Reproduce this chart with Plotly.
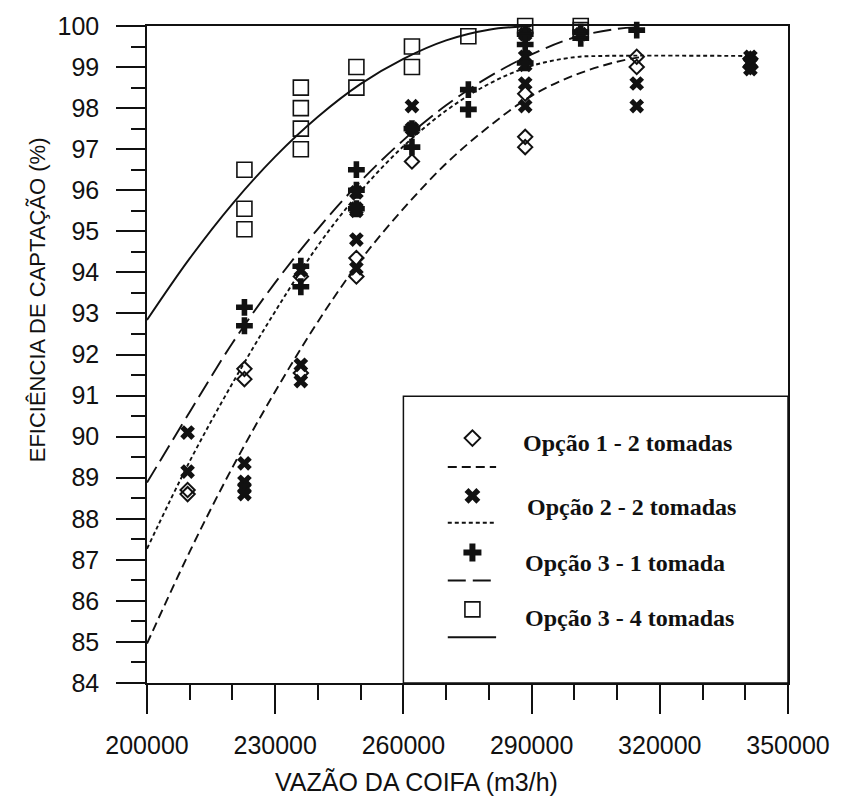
import plotly.graph_objects as go

# ---------------- data ----------------
# measured points
op1_x = [209500, 209500, 222800, 222800, 236000, 236000, 249000, 249000, 262000,
         288500, 288500, 288500, 314600, 314600, 341200, 341200]
op1_y = [88.7, 88.6, 91.65, 91.4, 93.9, 91.55, 94.35, 93.9, 96.7,
         98.35, 97.3, 97.05, 99.25, 99.0, 99.2, 99.0]

op2_x = [209500, 209500, 222800, 222800, 222800, 222800, 236000, 236000, 236000,
         249000, 249000, 249000, 249000, 249000, 262000, 262000,
         288500, 288500, 288500, 288500, 288500, 301500, 314600, 314600,
         341200, 341200, 341200]
op2_y = [90.1, 89.15, 89.35, 88.9, 88.75, 88.6, 94.05, 91.75, 91.35,
         95.95, 95.55, 95.5, 94.8, 94.1, 98.05, 97.5,
         99.8, 99.25, 99.05, 98.6, 98.05, 99.8, 98.6, 98.05,
         99.25, 99.1, 98.95]

op31_x = [222800, 222800, 236000, 236000, 249000, 249000, 249000, 262000, 262000,
          275200, 275200, 288500, 288500, 288500, 301500, 301500, 314600]
op31_y = [93.15, 92.7, 94.15, 93.65, 96.5, 96.0, 95.55, 97.5, 97.05,
          98.45, 97.97, 99.8, 99.55, 99.1, 99.85, 99.7, 99.9]

op34_x = [222800, 222800, 222800, 236000, 236000, 236000, 236000, 249000, 249000,
          262000, 262000, 275200, 288500, 301500, 301500]
op34_y = [96.5, 95.55, 95.05, 98.5, 98.0, 97.5, 97.0, 99.0, 98.5,
          99.5, 99.0, 99.75, 100.0, 100.0, 99.9]

# fitted curves
fit1_x = [200000, 210000, 220000, 230000, 240000, 250000, 260000, 270000, 280000,
          290000, 300000, 310000, 316000]
fit1_y = [84.96, 87.2, 89.25, 91.1, 92.8, 94.3, 95.55, 96.65, 97.55,
          98.3, 98.8, 99.13, 99.25]

fit2_x = [200000, 210000, 220000, 230000, 240000, 250000, 260000, 270000, 280000,
          290000, 300000, 306000, 341200]
fit2_y = [87.27, 89.4, 91.3, 93.05, 94.65, 95.98, 97.07, 97.94, 98.59,
          99.03, 99.24, 99.27, 99.27]

fit31_x = [200000, 210000, 220000, 230000, 240000, 250000, 260000, 270000, 280000,
           290000, 300000, 310000, 315000]
fit31_y = [88.88, 90.6, 92.28, 93.75, 95.06, 96.22, 97.22, 98.07, 98.76,
           99.31, 99.72, 99.93, 99.97]

fit34_x = [200000, 210000, 220000, 230000, 240000, 250000, 260000, 270000, 280000,
           290000]
fit34_y = [92.84, 94.34, 95.67, 96.82, 97.79, 98.59, 99.2, 99.65, 99.91, 100.0]

legend_labels = ["Opção 1 - 2 tomadas", "Opção 2 - 2 tomadas",
                 "Opção 3 - 1 tomada", "Opção 3 - 4 tomadas"]

x_title = "VAZÃO DA COIFA (m3/h)"
y_title = "EFICIÊNCIA DE CAPTAÇÃO (%)"

# ---------------- styles ----------------
BLACK = "#111111"
styles = [
    dict(symbol="diamond-open", size=11, lw=2.0, dash="9px,5px", leg=12),
    dict(symbol="x", size=13, lw=0, dash="4px,3px", leg=14),
    dict(symbol="cross", size=14, lw=0, dash="18px,7px", leg=15),
    dict(symbol="square-open", size=15, lw=1.6, dash="solid", leg=15),
]
points = [(op1_x, op1_y), (op2_x, op2_y), (op31_x, op31_y), (op34_x, op34_y)]
fits = [(fit1_x, fit1_y), (fit2_x, fit2_y), (fit31_x, fit31_y), (fit34_x, fit34_y)]

fig = go.Figure()

for (fx, fy), st in zip(fits, styles):
    fig.add_trace(go.Scatter(x=fx, y=fy, mode="lines", line_shape="spline",
                             line=dict(color=BLACK, width=1.9, dash=st["dash"]),
                             showlegend=False, hoverinfo="skip"))

for (px, py), st in zip(points, styles):
    fig.add_trace(go.Scatter(x=px, y=py, mode="markers", cliponaxis=False,
                             marker=dict(symbol=st["symbol"], size=st["size"], color=BLACK,
                                         line=dict(color=BLACK, width=st["lw"])),
                             showlegend=False))

# ---------------- custom legend (drawn on an overlay 0..1 axis) ----------------
L, R, T, B = 147, 797, 23, 683
W, H = R - L, B - T


def px2x(p):
    return (p - L) / W


def py2y(p):
    return (B - p) / H


leg_marker_y = [437, 495, 552, 609]
leg_line_y = [466, 522, 580, 637]
leg_text_y = [442, 506, 562, 618]
leg_text_x = [526, 530, 528, 528]
leg_marker_x = 477
leg_line_x = (452, 501)

for i, st in enumerate(styles):
    fig.add_trace(go.Scatter(x=[px2x(leg_marker_x)], y=[py2y(leg_marker_y[i])], mode="markers",
                             xaxis="x2", yaxis="y2", cliponaxis=False,
                             marker=dict(symbol=st["symbol"], size=st["leg"], color=BLACK,
                                         line=dict(color=BLACK, width=st["lw"])),
                             showlegend=False, hoverinfo="skip"))
    fig.add_trace(go.Scatter(x=[px2x(leg_line_x[0]), px2x(leg_line_x[1])],
                             y=[py2y(leg_line_y[i])] * 2, mode="lines",
                             xaxis="x2", yaxis="y2", cliponaxis=False,
                             line=dict(color=BLACK, width=2, dash=st["dash"]),
                             showlegend=False, hoverinfo="skip"))
    fig.add_annotation(x=px2x(leg_text_x[i]), y=py2y(leg_text_y[i]), xref="paper", yref="paper",
                       text=legend_labels[i], showarrow=False, xanchor="left", yanchor="middle",
                       font=dict(family="Liberation Serif", size=24, color=BLACK, weight="bold"),
                       )

fig.add_shape(type="rect", xref="paper", yref="paper",
              x0=px2x(407), x1=1, y0=0, y1=py2y(395),
              line=dict(color=BLACK, width=1.5), layer="below")

fig.add_annotation(x=px2x(420), y=py2y(782), xref="paper", yref="paper", text=x_title,
                   showarrow=False, xanchor="center", yanchor="middle",
                   font=dict(family="Liberation Sans", size=25, color=BLACK))
fig.add_annotation(x=px2x(36), y=py2y(298), xref="paper", yref="paper", text=y_title,
                   showarrow=False, xanchor="center", yanchor="middle", textangle=-90,
                   font=dict(family="Liberation Sans", size=22, color=BLACK))

axis_common = dict(showline=True, linecolor=BLACK, linewidth=1.5, mirror=True,
                   ticks="outside", ticklen=29, tickwidth=1.5, tickcolor=BLACK,
                   showgrid=False, zeroline=False,
                   tickfont=dict(family="Liberation Sans", size=25, color=BLACK))

fig.update_layout(
    width=842, height=796,
    margin=dict(l=L, r=842 - R, t=T, b=796 - B),
    paper_bgcolor="white", plot_bgcolor="white",
    showlegend=False,
    font=dict(family="Liberation Sans", color=BLACK),
    xaxis=dict(range=[200000, 350000], tick0=200000, dtick=30000, tickformat="d",
               minor=dict(dtick=10000, ticks="outside", ticklen=15, tickwidth=1.5, tickcolor=BLACK),
               ticklabelstandoff=10, **axis_common),
    yaxis=dict(range=[84, 100], tick0=84, dtick=1,
               minor=dict(dtick=0.5, ticks="outside", ticklen=14, tickwidth=1.5, tickcolor=BLACK),
               ticklabelstandoff=12, **axis_common),
    xaxis2=dict(range=[0, 1], overlaying="x", anchor="y2", visible=False, fixedrange=True),
    yaxis2=dict(range=[0, 1], overlaying="y", anchor="x2", visible=False, fixedrange=True),
)

fig.write_html("out.html")
